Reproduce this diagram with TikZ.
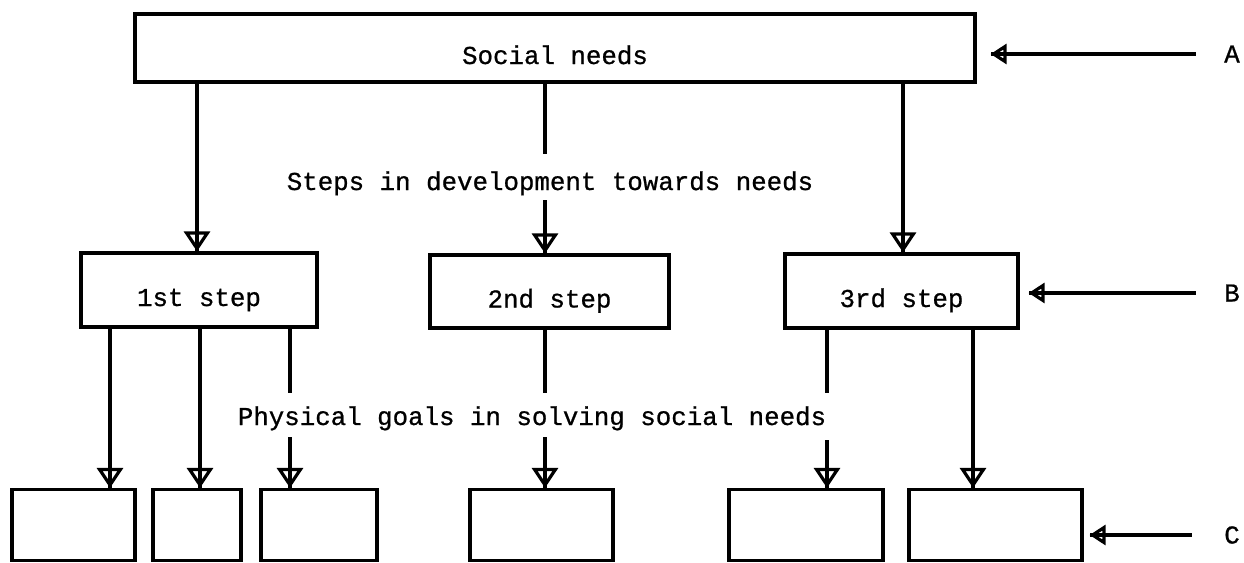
\documentclass[tikz,border=0pt]{standalone}
\usepackage{fontspec}
\newfontfamily\tw[UprightFeatures={FakeBold=0.8}]{Liberation Mono}
\usetikzlibrary{arrows.meta,calc}
\begin{document}
\begin{tikzpicture}[x=0.5pt,y=-0.5pt,
  tw/.style={font=\tw\fontsize{12.9pt}{15pt}\selectfont},
  box/.style={draw, line width=1.6pt, inner sep=0pt, text height=16pt, text depth=0pt, tw},
  lbl/.style={inner sep=0pt, tw},
  conn/.style={line width=1.6pt},
  arr/.style={line width=1.6pt, -{Triangle[open,width=13pt,length=10pt]}, postaction={draw,-,line width=1.6pt}},
  larr/.style={line width=1.6pt, -{Triangle[open,width=10pt,length=8pt]}, postaction={draw,-,line width=1.6pt}}]
\useasboundingbox (0,0) rectangle (1244,563);
% boxes
\node[box, minimum width=420pt, minimum height=34pt] (social) at (555,48) {Social needs};
\node[box, minimum width=118pt, minimum height=37pt] (s1) at (199,290) {1st step};
\node[box, minimum width=119.5pt, minimum height=36.5pt] (s2) at (549.5,291.5) {2nd step};
\node[box, minimum width=116.5pt, minimum height=37pt] (s3) at (901.5,291) {3rd step};
\node[box, minimum width=61.5pt, minimum height=35.5pt] (c1) at (73.5,525) {};
\node[box, minimum width=44pt, minimum height=35.5pt] (c2) at (197,525) {};
\node[box, minimum width=58pt, minimum height=35.5pt] (c3) at (319,525) {};
\node[box, minimum width=71.5pt, minimum height=35.5pt] (c4) at (541.5,525) {};
\node[box, minimum width=77pt, minimum height=35.5pt] (c5) at (806,525) {};
\node[box, minimum width=86.5pt, minimum height=35.5pt] (c6) at (995.5,525) {};
% texts
\node[lbl, anchor=base] (steps) at (550,190) {Steps in development towards needs};
\node[lbl, anchor=base] (phys) at (532,425) {Physical goals in solving social needs};
\node[lbl] (la) at (1232,54) {A};
\node[lbl] (lb) at (1232,293) {B};
\node[lbl] (lc) at (1232,535) {C};
% gap coordinates
\coordinate (g2a) at (545,154);
\coordinate (g2b) at (545,200);
\coordinate (g3a) at (290,393);
\coordinate (g3b) at (290,437);
\coordinate (g4a) at (545,393);
\coordinate (g4b) at (545,437);
\coordinate (g5a) at (827,393);
\coordinate (g5b) at (827,440);
% connectors from top
\draw[arr] (social.south -| 197,0) -- (s1.north -| 197,0);
\draw[conn] (social.south -| g2a) -- (g2a);
\draw[arr] (g2b) -- (s2.north -| g2b);
\draw[arr] (social.south -| 903,0) -- (s3.north -| 903,0);
% connectors to goals
\draw[arr] (s1.south -| 110,0) -- (c1.north -| 110,0);
\draw[arr] (s1.south -| 200,0) -- (c2.north -| 200,0);
\draw[conn] (s1.south -| g3a) -- (g3a);
\draw[arr] (g3b) -- (c3.north -| g3b);
\draw[conn] (s2.south -| g4a) -- (g4a);
\draw[arr] (g4b) -- (c4.north -| g4b);
\draw[conn] (s3.south -| g5a) -- (g5a);
\draw[arr] (g5b) -- (c5.north -| g5b);
\draw[arr] (s3.south -| 973,0) -- (c6.north -| 973,0);
% level arrows
\draw[larr] ($(la.west)+(-28,0)$) -- ($(social.east |- la.west)+(14,0)$);
\draw[larr] ($(lb.west)+(-28,0)$) -- ($(s3.east |- lb.west)+(9,0)$);
\draw[larr] ($(lc.west)+(-32,0)$) -- ($(c6.east |- lc.west)+(6,0)$);
\end{tikzpicture}
\end{document}
